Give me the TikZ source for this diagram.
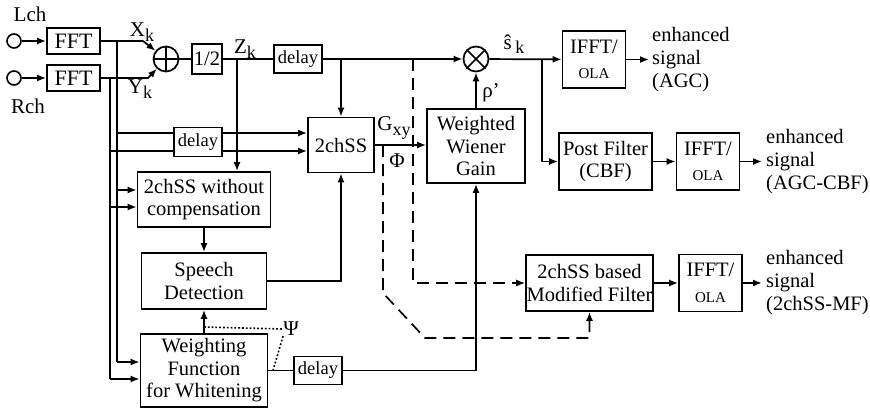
\documentclass[tikz,border=0pt]{standalone}
\usepackage{fontspec}
\setmainfont{Liberation Serif}
\usetikzlibrary{arrows.meta,calc}
\pgfdeclarelayer{bg}
\pgfsetlayers{bg,main}
\newcommand\sbs[1]{\raisebox{-0.45ex}{\fontsize{18}{18}\selectfont #1}}
\newcommand\olaf{\fontsize{15}{15}\selectfont}
\begin{document}
\begin{tikzpicture}[x=1pt,y=-1pt,
  blk/.style={draw, line width=1.7pt, fill=white, inner sep=0.5pt, align=center, font=\fontsize{20.5}{22.5}\selectfont},
  dlbox/.style={blk, font=\fontsize{18.5}{18.5}\selectfont, minimum width=48pt, minimum height=28pt},
  ifbox/.style={blk, minimum width=63pt, minimum height=57pt},
  port/.style={draw, circle, line width=1.6pt, minimum size=14pt, inner sep=0pt},
  opnode/.style={draw, circle, line width=1.7pt, minimum size=25pt, inner sep=0pt},
  lbl/.style={font=\fontsize{21}{22.5}\selectfont, inner sep=0pt},
  outl/.style={font=\fontsize{20.5}{23}\selectfont, inner sep=0pt, align=left, anchor=west},
  wire/.style={line width=1.7pt},
  arr/.style={wire, -{Latex[length=9pt,width=7pt]}},
  dsh/.style={line width=1.7pt, dash pattern=on 12pt off 7pt},
  dotl/.style={line width=1.6pt, dash pattern=on 1.8pt off 2pt}
]
\useasboundingbox (0,0) rectangle (870,412);

% ---- nodes
\node[port] (cl) at (14,41) {};
\node[port] (cr) at (14,78) {};
\node[lbl] (lch) at (30,14) {Lch};
\node[lbl] (rch) at (28,106) {Rch};
\node[blk, font=\fontsize{22}{22}\selectfont, minimum width=53pt, minimum height=26pt] (fft1) at (73.5,41) {FFT};
\node[blk, font=\fontsize{22}{22}\selectfont, minimum width=53pt, minimum height=26pt] (fft2) at (73.5,78) {FFT};
\node[opnode] (plus) at (166,59) {};
\node[blk, minimum width=30pt, minimum height=30pt] (half) at (207,59) {1/2};
\node[dlbox] (d1) at (298,59) {delay};
\node[opnode] (mul) at (476,59) {};
\node[ifbox] (ifft1) at (594,59.5) {IFFT/\\[3pt]{\olaf OLA}};
\node[dlbox, minimum height=29pt] (d2) at (198,142) {delay};
\node[blk, minimum width=66pt, minimum height=55pt] (ss) at (341,145) {2chSS};
\node[blk, minimum width=98pt, minimum height=74pt] (wwg) at (476,146) {Weighted\\Wiener\\Gain};
\node[blk, minimum width=93pt, minimum height=57pt] (pf) at (605.5,161.5) {Post Filter\\(CBF)};
\node[ifbox] (ifft2) at (708,161.5) {IFFT/\\[3pt]{\olaf OLA}};
\node[blk, minimum width=133pt, minimum height=55pt] (wo) at (204,199.5) {2chSS without\\compensation};
\node[blk, minimum width=125pt, minimum height=56pt] (sd) at (204,281) {Speech\\Detection};
\node[blk, minimum width=125pt, minimum height=56pt] (mf) at (589.5,283) {2chSS based\\Modified Filter};
\node[ifbox] (ifft3) at (710.5,283) {IFFT/\\[3pt]{\olaf OLA}};
\node[blk, minimum width=127pt, minimum height=73pt] (wf) at (204,370.5) {Weighting\\Function\\for Whitening};
\node[dlbox] (d3) at (318,370.5) {delay};

% labels
\node[lbl] (xk) at (142,32) {X\sbs{k}};
\node[lbl] (yk) at (140,89) {Y\sbs{k}};
\node[lbl] (zk) at (245,49) {Z\sbs{k}};
\node[lbl] (sk) at (514,44) {ŝ\,\sbs{k}};
\node[lbl] (rho) at (491,93) {ρ'};
\node[lbl] (gxy) at (394,128) {G\sbs{xy}};
\node[lbl] (phi) at (397,161) {Φ};
\node[lbl] (psi) at (291,329) {Ψ};
\node[outl] (o1) at (652,59.5) {enhanced\\signal\\(AGC)};
\node[outl] (o2) at (766,161.5) {enhanced\\signal\\(AGC-CBF)};
\node[outl] (o3) at (766,283) {enhanced\\signal\\(2chSS-MF)};

% operator symbols
\draw[wire] (plus.north) -- (plus.south) (plus.west) -- (plus.east);
\draw[wire] (mul.north west) -- (mul.south east) (mul.north east) -- (mul.south west);

% ---- coordinates
\coordinate (xa) at (143,41);
\coordinate (ya) at (148,78);
\coordinate (xb) at (117,41);
\coordinate (yb) at (110,78);
\coordinate (t1) at (117,133);
\coordinate (t2) at (110,151);
\coordinate (t3) at (117,190);
\coordinate (t4) at (110,207);
\coordinate (t5) at (117,362);
\coordinate (t6) at (110,379);
\coordinate (zb) at (237,59);
\coordinate (b1) at (341,59);
\coordinate (sb) at (542,59);
\coordinate (da) at (413,59);
\coordinate (db) at (383,145);
\coordinate (db1) at (383,293);
\coordinate (db2) at (425,338);
\coordinate (pa) at (204,327);
\coordinate (pb) at (273,370.5);

% ---- wires
\begin{pgfonlayer}{bg}
\draw[arr] (cl) -- (fft1);
\draw[arr] (cr) -- (fft2);
\draw[arr] (fft1.east) -- (xa) -- (plus);
\draw[arr] (fft2.east) -- (ya) -- (plus);
\draw[wire] (plus) -- (half);
\draw[wire] (half) -- (d1);
\draw[arr] (d1) -- (mul);
\draw[arr] (zb) -- (zb |- wo.north);
\draw[arr] (b1) -- (ss.north);
\draw[wire] (xb) -- (t5);
\draw[wire] (yb) -- (t6);
\draw[arr] (t1) -- (t1 -| ss.west);
\draw[arr] (t2) -- (t2 -| ss.west);
\draw[arr] (t3) -- (t3 -| wo.west);
\draw[arr] (t4) -- (t4 -| wo.west);
\draw[arr] (t5) -- (t5 -| wf.west);
\draw[arr] (t6) -- (t6 -| wf.west);
\draw[arr] (wo) -- (sd);
\draw[arr] (wf) -- (sd);
\draw[arr] (sd.east) -| (ss.south);
\draw[wire] (wf) -- (d3);
\draw[arr] (d3.east) -| (wwg.south);
\draw[arr] (ss.east) -- (ss.east -| wwg.west);
\draw[arr] (wwg) -- (mul);
\draw[arr] (mul) -- (ifft1);
\draw[arr] (sb) |- (pf.west);
\draw[arr] (pf) -- (ifft2);
\draw[arr] (mf) -- (ifft3);
\draw[arr, shorten >=3pt] (ifft1) -- (o1.west);
\draw[arr, shorten >=4pt] (ifft2) -- (o2.west);
\draw[arr, shorten >=4pt] (ifft3) -- (o3.west);
\draw[dsh, -{Latex[length=9pt,width=7pt]}] (da) |- (mf.west);
\draw[dsh, -{Latex[length=9pt,width=7pt]}] (db) -- (db1) -- (db2) -| (mf.south);
\draw[dotl] (pa) -- (psi.west);
\draw[dotl] (psi.south west) -- (pb);
\end{pgfonlayer}
\end{tikzpicture}
\end{document}
